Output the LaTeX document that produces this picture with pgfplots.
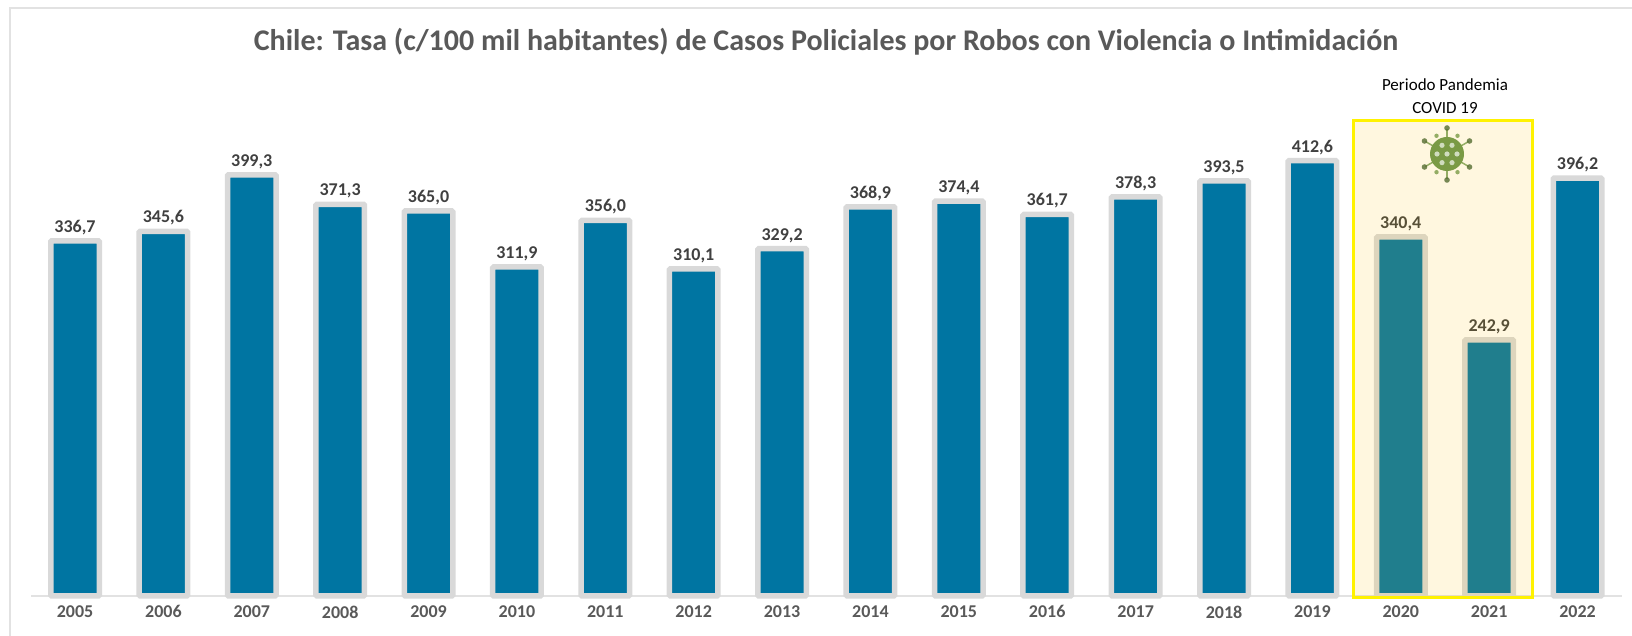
\documentclass[border=0pt]{standalone}
\usepackage{pgfplots}
\pgfplotsset{compat=1.18}
\usepackage{fontspec}
\setmainfont{Carlito}
\definecolor{barblue}{HTML}{0075A2}
\definecolor{bargray}{HTML}{D9D9D9}
\definecolor{titlegray}{HTML}{595959}
\definecolor{labgray}{HTML}{404040}
\definecolor{tintgold}{HTML}{FFC000}
\definecolor{framegray}{HTML}{E2E2E2}
\definecolor{virus}{HTML}{7A9A45}
\begin{document}
\begin{tikzpicture}
\path[use as bounding box] (0pt,0pt) rectangle (1632pt,636pt);
\draw[framegray,line width=1.5pt] (10pt,-2pt) -- (10pt,628pt) -- (1640pt,628pt);
\begin{axis}[
  at={(31pt,40pt)},anchor=south west,
  scale only axis,width=1591pt,height=490pt,
  xmin=2004.502,xmax=2022.503,ymin=0,ymax=464.5,
  axis x line=bottom,axis y line=none,
  axis line style={-,framegray,line width=1.2pt},
  xtick=data,xtick style={draw=none},
  /pgf/number format/1000 sep={},
  xticklabel style={font=\fontsize{18}{20}\selectfont\bfseries,text=titlegray,yshift=-4pt},
  /pgf/number format/assume math mode=true,
  clip=false,
  nodes near coords,
  nodes near coords style={font=\fontsize{18}{20}\selectfont\bfseries,text=labgray,
    /pgf/number format/fixed,/pgf/number format/fixed zerofill,/pgf/number format/precision=1,
    /pgf/number format/use comma,/pgf/number format/assume math mode=true},
]
\addplot[ybar,bar width=48.5pt,fill=barblue,draw=bargray,line width=5.5pt,
  rounded corners=1pt]
 coordinates {(2005,336.7)(2006,345.6)(2007,399.3)(2008,371.3)(2009,365.0)(2010,311.9)
 (2011,356.0)(2012,310.1)(2013,329.2)(2014,368.9)(2015,374.4)(2016,361.7)(2017,378.3)
 (2018,393.5)(2019,412.6)(2020,340.4)(2021,242.9)(2022,396.2)};
\end{axis}
\begin{scope}[x=1pt,y=1pt]
\fill[tintgold,opacity=0.125] (1353,38.5) rectangle (1532,515);
\draw[yellow,line width=3pt] (1353,38.5) rectangle (1532,515);
\node[font=\fontsize{17}{20}\selectfont,text=black,align=center] at (1445,540) {Periodo Pandemia\\[3pt]COVID 19};
\node[font=\fontsize{30}{36}\selectfont\bfseries,text=titlegray] at (826,594) {Chile: Tasa (c/100 mil habitantes) de Casos Policiales por Robos con Violencia o Intimidación};
\begin{scope}[shift={(1447,482)}]
\foreach \a in {30,90,...,330}{
  \draw[virus,line width=1.5pt,opacity=.8] (\a:16) -- (\a:25);
  \fill[virus!70!black,opacity=.8] (\a:26) circle (2.8);
}
\foreach \a in {60,120,240,300}{
  \fill[virus,opacity=.8] (\a:21) circle (2.2);
}
\fill[virus] (0,0) circle (17);
\foreach \a in {0,60,...,300}{\fill[virus!35!white] (\a:10) circle (2.6);}
\fill[virus!35!white] (0,0) circle (2.6);
\end{scope}
\end{scope}
\end{tikzpicture}
\end{document}
